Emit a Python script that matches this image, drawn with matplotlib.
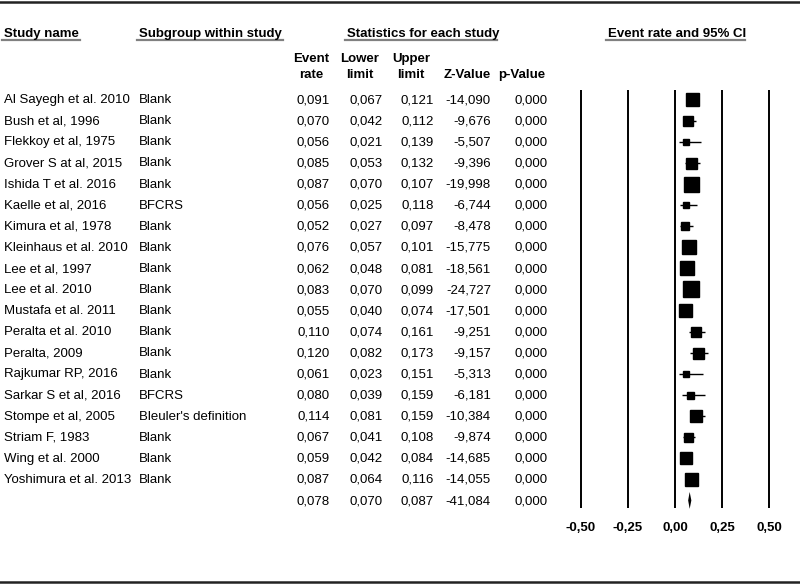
import matplotlib
matplotlib.use("Agg")
from matplotlib import pyplot as plt

plt.rcParams['font.family'] = ['Liberation Sans', 'DejaVu Sans']

studies = ['Al Sayegh et al. 2010', 'Bush et al, 1996', 'Flekkoy et al, 1975', 'Grover S at al, 2015',
           'Ishida T et al. 2016', 'Kaelle et al, 2016', 'Kimura et al, 1978', 'Kleinhaus et al. 2010',
           'Lee et al, 1997', 'Lee et al. 2010', 'Mustafa et al. 2011', 'Peralta et al. 2010',
           'Peralta, 2009', 'Rajkumar RP, 2016', 'Sarkar S et al, 2016', 'Stompe et al, 2005',
           'Striam F, 1983', 'Wing et al. 2000', 'Yoshimura et al. 2013']
subgroups = ['Blank', 'Blank', 'Blank', 'Blank', 'Blank', 'BFCRS', 'Blank', 'Blank', 'Blank', 'Blank',
             'Blank', 'Blank', 'Blank', 'Blank', 'BFCRS', "Bleuler's definition", 'Blank', 'Blank', 'Blank']
event_rate = [0.091, 0.070, 0.056, 0.085, 0.087, 0.056, 0.052, 0.076, 0.062, 0.083,
              0.055, 0.110, 0.120, 0.061, 0.080, 0.114, 0.067, 0.059, 0.087]
lower = [0.067, 0.042, 0.021, 0.053, 0.070, 0.025, 0.027, 0.057, 0.048, 0.070,
         0.040, 0.074, 0.082, 0.023, 0.039, 0.081, 0.041, 0.042, 0.064]
upper = [0.121, 0.112, 0.139, 0.132, 0.107, 0.118, 0.097, 0.101, 0.081, 0.099,
         0.074, 0.161, 0.173, 0.151, 0.159, 0.159, 0.108, 0.084, 0.116]
z_value = [-14.090, -9.676, -5.507, -9.396, -19.998, -6.744, -8.478, -15.775, -18.561, -24.727,
           -17.501, -9.251, -9.157, -5.313, -6.181, -10.384, -9.874, -14.685, -14.055]
p_value = [0.0] * 19
# relative weight (box size)
weight = [13, 10, 6, 11, 15, 6.5, 8, 14, 14, 16, 13, 10, 11, 6, 7, 12, 9, 12, 13]

pooled = (0.078, 0.070, 0.087, -41.084, 0.000)
xticks = [-0.50, -0.25, 0.00, 0.25, 0.50]

W, H = 800, 585


def fmt(v):
    return ('%.3f' % v).replace('.', ',')


fig = plt.figure(figsize=(W / 100, H / 100), dpi=100)

# text layer in pixel units
ax = fig.add_axes([0, 0, 1, 1])
ax.set_xlim(0, W)
ax.set_ylim(H, 0)
ax.axis('off')

ax.plot([0, W], [2, 2], color='#222222', lw=1.8)
ax.plot([0, W], [582, 582], color='#222222', lw=1.8)

fs = 9.5
bl = 4.7  # baseline offset from cap centre, px
heads = [(4, 'Study name', 2, 80), (139, 'Subgroup within study', 137, 283),
         (347, 'Statistics for each study', 345, 497), (608, 'Event rate and 95% CI', 606, 745)]
for x, s, x0, x1 in heads:
    ax.text(x, 32 + bl, s, fontsize=fs, fontweight='bold', ha='left', va='baseline')
    ax.plot([x0, x1], [40, 40], color='#808080', lw=1.6)

col_right = [330, 383, 434, 491, 548]
head_mid = [311, 360, 411, 467, 522]
sub_heads = [('Event', 'rate'), ('Lower', 'limit'), ('Upper', 'limit'), ('', 'Z-Value'), ('', 'p-Value')]
for xm, (a, b) in zip(head_mid, sub_heads):
    ax.text(xm, 57 + bl, a, fontsize=fs, fontweight='bold', ha='center', va='baseline')
    ax.text(xm, 73 + bl, b, fontsize=fs, fontweight='bold', ha='center', va='baseline')

row_y0, row_dy = 99.5, 21.1
for i in range(len(studies)):
    y = row_y0 + i * row_dy - 1 + bl
    ax.text(4, y, studies[i], fontsize=fs, va='baseline')
    ax.text(139, y, subgroups[i], fontsize=fs, va='baseline')
    vals = [event_rate[i], lower[i], upper[i], z_value[i], p_value[i]]
    for xr, v in zip(col_right, vals):
        ax.text(xr, y, fmt(v), fontsize=fs, ha='right', va='baseline')
y = row_y0 + len(studies) * row_dy - 1 + bl
for xr, v in zip(col_right, pooled):
    ax.text(xr, y, fmt(v), fontsize=fs, ha='right', va='baseline')

# forest panel
px0, px1, py0, py1 = 570, 790, 85, 515
zero_px, unit_px = 675, 188
fa = fig.add_axes([px0 / W, (H - py1) / H, (px1 - px0) / W, (py1 - py0) / H])
fa.set_xlim((px0 - zero_px) / unit_px, (px1 - zero_px) / unit_px)
fa.set_ylim((py1 - row_y0) / row_dy, (py0 - row_y0) / row_dy)
for sp in fa.spines.values():
    sp.set_visible(False)
fa.set_yticks([])
fa.set_xticks(xticks)
fa.set_xticklabels([fmt(t)[:-1] for t in xticks], fontsize=fs, fontweight='bold')
fa.tick_params(axis='x', length=0, pad=5)
fa.vlines(xticks, -0.45, 19.35, color='black', lw=1.4)

rows = list(range(len(studies)))
fa.hlines(rows, lower, upper, color='black', lw=1)
for i in rows:
    fa.plot(event_rate[i], i, marker='s', color='black', markersize=weight[i] * 0.72, lw=0)

n = len(studies)
est, lo, hi = pooled[0], pooled[1], pooled[2]
fa.fill([lo, est, hi, est], [n, n - 0.4, n, n + 0.4], color='black', lw=0)

fig.savefig('out.png', dpi=100)
